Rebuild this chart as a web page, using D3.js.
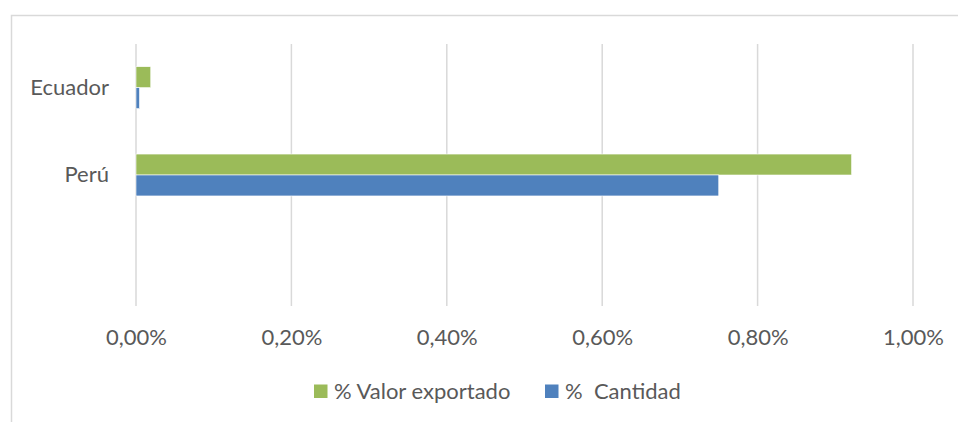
<!DOCTYPE html>
<html>
<head>
<meta charset="utf-8">
<script src="https://cdn.jsdelivr.net/npm/d3@7"></script>
<style>
  body { margin: 0; background: #fff; }
  svg text { font-family: Lato, "Open Sans", sans-serif; fill: #595959; }
</style>
</head>
<body>
<svg id="chart" width="958" height="422"></svg>
<script>
// categories top to bottom (last one is an empty slot in the original)
var categories = ["Ecuador", "Perú", ""];
var seriesNames = ["% Valor exportado", "%  Cantidad"];
var valorExportado = [0.019, 0.921, 0];   // in %
var cantidad = [0.0045, 0.75, 0];         // in %
var tickValues = [0, 0.2, 0.4, 0.6, 0.8, 1.0];
var colors = ["#9BBB59", "#4F81BD"];

var svg = d3.select("#chart");

// chart frame (only top and left edges show in the crop)
svg.append("rect")
  .attr("x", 11.5).attr("y", 15.5)
  .attr("width", 960).attr("height", 420)
  .attr("fill", "none")
  .attr("stroke", "#d9d9d9")
  .attr("stroke-width", 1.5);

var x = d3.scaleLinear().domain([0, 1]).range([136, 913]);
var y = d3.scaleBand().domain(categories).range([44, 306])
  .paddingInner(0.52).paddingOuter(0.26);
var ySub = d3.scaleBand().domain(seriesNames).range([0, y.bandwidth()]);

// vertical gridlines
svg.append("g").selectAll("line")
  .data(tickValues)
  .enter().append("line")
  .attr("x1", function(d) { return x(d); })
  .attr("x2", function(d) { return x(d); })
  .attr("y1", 44).attr("y2", 306)
  .attr("stroke", "#d9d9d9")
  .attr("stroke-width", 1.5);

// x axis tick labels
var fmt = function(d) { return d3.format(".2f")(d).replace(".", ",") + "%"; };
var xAxis = d3.axisBottom(x).tickValues(tickValues).tickFormat(fmt).tickSize(0).tickPadding(0);
var gx = svg.append("g").attr("transform", "translate(0,329)").call(xAxis);
gx.select(".domain").remove();
gx.selectAll("text").attr("font-size", 22).attr("font-family", null);

// bars
var rows = categories.map(function(c, i) {
  return { cat: c, vals: [valorExportado[i], cantidad[i]] };
});

var groups = svg.append("g").selectAll("g")
  .data(rows)
  .enter().append("g")
  .attr("transform", function(d) { return "translate(0," + y(d.cat) + ")"; });

groups.selectAll("rect")
  .data(function(d) { return d.vals.map(function(v, j) { return { name: seriesNames[j], v: v, j: j }; }); })
  .enter().append("rect")
  .attr("x", x(0))
  .attr("y", function(d) { return ySub(d.name); })
  .attr("width", function(d) { return x(d.v) - x(0); })
  .attr("height", ySub.bandwidth())
  .attr("fill", function(d) { return colors[d.j]; })
  .attr("stroke", "#fff")
  .attr("stroke-width", function(d) { return d.v > 0 ? 0.6 : 0; });

// category labels
var yAxis = d3.axisLeft(y).tickSize(0).tickPadding(0);
var gy = svg.append("g").attr("transform", "translate(109,0)").call(yAxis);
gy.select(".domain").remove();
gy.selectAll("text").attr("font-size", 22).attr("font-family", null);

// legend
var legend = svg.append("g").attr("transform", "translate(0,391)");
var legendX = [314, 545];
seriesNames.forEach(function(name, i) {
  legend.append("rect")
    .attr("x", legendX[i]).attr("y", -6.5)
    .attr("width", 13.5).attr("height", 13.5)
    .attr("fill", colors[i]);
  legend.append("text")
    .attr("x", legendX[i] + 20).attr("y", 0)
    .attr("dy", "0.35em")
    .attr("font-size", 22)
    .attr("xml:space", "preserve")
    .style("white-space", "pre")
    .text(name);
});
</script>
</body>
</html>
